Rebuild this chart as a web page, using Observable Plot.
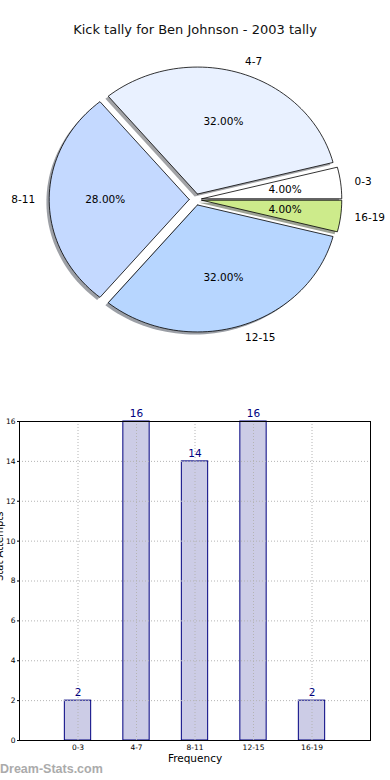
<!DOCTYPE html>
<html>
<head>
<meta charset="utf-8">
<script src="https://cdn.jsdelivr.net/npm/d3@7"></script>
<script src="https://cdn.jsdelivr.net/npm/@observablehq/plot@0.6"></script>
<style>
  html, body { margin: 0; padding: 0; background: #fff; overflow: hidden; }
  #wrap { position: relative; width: 390px; height: 780px; }
  #title { position: absolute; left: 0; top: 21px; width: 390px; text-align: center;
           font-family: "DejaVu Sans", sans-serif; font-size: 13px; line-height: 18px; color: #111; z-index: 2; }
  #mark { position: absolute; left: 0; top: 762px; font-family: "Liberation Sans", sans-serif;
          font-weight: bold; font-size: 12.5px; color: #ababab; z-index: 2; }
  svg { display: block; }
</style>
</head>
<body>
<div id="wrap">
  <div id="title">Kick tally for Ben Johnson - 2003 tally</div>
  <div id="pie"></div>
  <div id="bar"></div>
  <div id="mark">Dream-Stats.com</div>
</div>
<script>
// ---- data ----
const categories = ["0-3", "4-7", "8-11", "12-15", "16-19"];
const counts = [2, 16, 14, 16, 2];
const pieColors = ["#ffffff", "#e9f1ff", "#c4d9ff", "#b7d6ff", "#cdeb8b"];
const yTicks = [0, 2, 4, 6, 8, 10, 12, 14, 16];
const yLabel = "Stat Attempts";
const xLabel = "Frequency";

// ---- pie geometry (unit circle, matplotlib style: start at 0°, counter-clockwise) ----
const total = d3.sum(counts);
const explode = 0.045;
const shadowOff = 0.02;
let acc = 0;
const slices = counts.map((v, i) => {
  const a0 = acc / total * 2 * Math.PI;
  acc += v;
  const a1 = acc / total * 2 * Math.PI;
  const mid = (a0 + a1) / 2;
  const ox = explode * Math.cos(mid), oy = explode * Math.sin(mid);
  const n = Math.max(4, Math.ceil((a1 - a0) / (Math.PI / 90)));
  const pts = [{x: ox, y: oy}];
  for (let k = 0; k <= n; k++) {
    const a = a0 + (a1 - a0) * k / n;
    pts.push({x: ox + Math.cos(a), y: oy + Math.sin(a)});
  }
  pts.push({x: ox, y: oy});
  const c = d3.rgb(pieColors[i]);
  return {
    i, v, mid, pts,
    color: pieColors[i],
    shadow: d3.rgb(c.r * 0.3, c.g * 0.3, c.b * 0.3).formatHex(),
    label: categories[i],
    pct: (v / total * 100).toFixed(2) + "%",
    lx: (explode + 1.1) * Math.cos(mid), ly: (explode + 1.1) * Math.sin(mid),
    px: (explode + 0.6) * Math.cos(mid), py: (explode + 0.6) * Math.sin(mid)
  };
});

const font = "DejaVu Sans, sans-serif";
const pieMarks = [];
for (const s of slices) {
  pieMarks.push(Plot.line(s.pts, {
    x: d => d.x - shadowOff, y: d => d.y - shadowOff,
    fill: s.shadow, fillOpacity: 0.5, stroke: "none", curve: "linear"
  }));
}
for (const s of slices) {
  pieMarks.push(Plot.line(s.pts, {
    x: "x", y: "y", fill: s.color, stroke: "#000", strokeWidth: 0.8, curve: "linear"
  }));
}
pieMarks.push(Plot.text(slices.filter(s => s.lx >= 0), {
  x: "lx", y: "ly", text: "label", textAnchor: "start", fontSize: 10.5, fill: "#000"
}));
pieMarks.push(Plot.text(slices.filter(s => s.lx < 0), {
  x: "lx", y: "ly", text: "label", textAnchor: "end", fontSize: 10.5, fill: "#000"
}));
pieMarks.push(Plot.text(slices, {
  x: "px", y: "py", text: "pct", textAnchor: "middle", fontSize: 10.5, fill: "#000"
}));

const rx = 140, ry = 127, cx = 195, cy = 199, H = 390;
const pie = Plot.plot({
  width: 390, height: H,
  margin: 0,
  style: {fontFamily: font, background: "#fff", overflow: "visible"},
  x: {axis: null, domain: [-cx / rx, (390 - cx) / rx]},
  y: {axis: null, domain: [-(H - cy) / ry, cy / ry]},
  marks: pieMarks
});
document.getElementById("pie").appendChild(pie);

// ---- bar chart ----
const bars = categories.map((c, i) => ({i, c, v: counts[i]}));
const barW = 0.45;
const bar = Plot.plot({
  width: 390, height: 390,
  marginTop: 31, marginBottom: 40, marginLeft: 19, marginRight: 20,
  style: {fontFamily: font, fontSize: "7.5px", background: "#fff", color: "#000"},
  x: {
    domain: [-1, 5], ticks: categories.map((c, i) => i),
    tickFormat: i => categories[i], tickSize: 0, tickPadding: 4, label: null
  },
  y: {domain: [0, 16], ticks: yTicks, tickSize: 2, tickPadding: 2, label: null},
  marks: [
    Plot.rect(bars, {
      x1: d => d.i - barW / 2, x2: d => d.i + barW / 2, y1: 0, y2: "v",
      fill: "#cccce6", stroke: "#000080", strokeWidth: 1
    }),
    Plot.ruleY(yTicks, {stroke: "#b4b4b4", strokeDasharray: "1,2", strokeWidth: 1}),
    Plot.ruleX(bars, {x: "i", stroke: "#b4b4b4", strokeDasharray: "1,2", strokeWidth: 1}),
    Plot.text(bars, {x: "i", y: "v", text: d => String(d.v), dy: -8, fill: "#000080", fontSize: 10.5}),
    Plot.text([yLabel], {frameAnchor: "left", dx: -20, rotate: -90, fontSize: 10, fill: "#000"}),
    Plot.text([xLabel], {frameAnchor: "bottom", dy: 21, fontSize: 10.5, fill: "#000"}),
    Plot.frame({stroke: "#000", strokeWidth: 1})
  ]
});
document.getElementById("bar").appendChild(bar);
</script>
</body>
</html>
